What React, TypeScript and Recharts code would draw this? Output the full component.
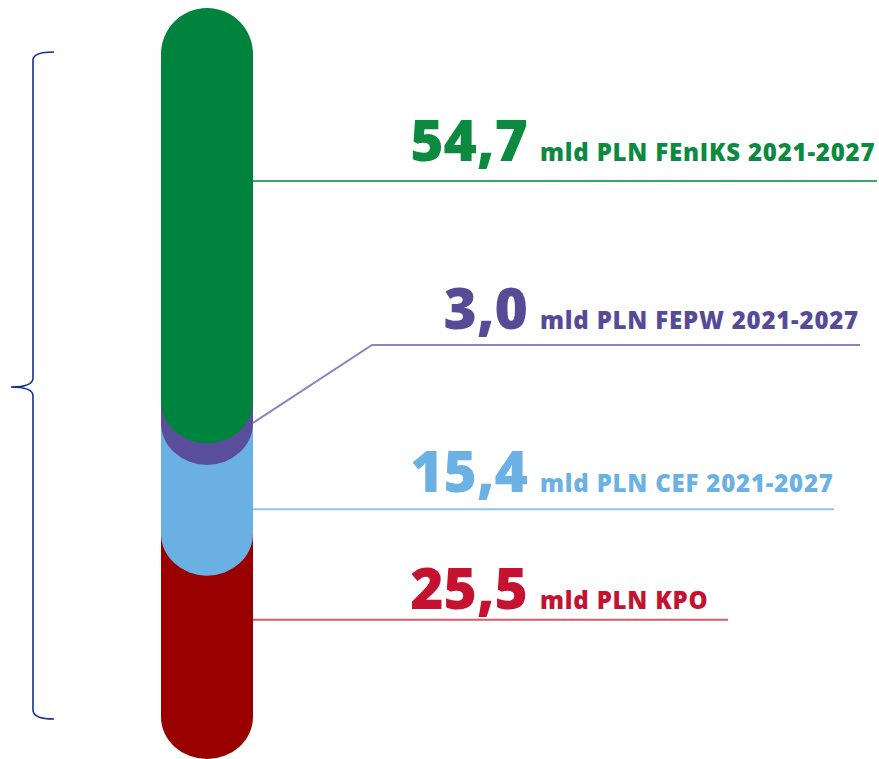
import { BarChart, Bar, XAxis, YAxis, LabelList } from "recharts";

// funding sources, bottom to top of the pill
const seriesKeys = ["kpo", "cef", "fepw", "feniks"];
const seriesValues = [25.5, 15.4, 3.0, 54.7];
const seriesNames = [
  "mld PLN KPO",
  "mld PLN CEF 2021-2027",
  "mld PLN FEPW 2021-2027",
  "mld PLN FEnIKS 2021-2027",
];

const barColors = ["#990000", "#6AB0E2", "#5A4E9C", "#00843D"];
const textColors = ["#C41230", "#6CB1E4", "#574B98", "#0B8A40"];
const lineColors = ["#DA5A67", "#8DC5EE", "#8B84C4", "#3AA965"];

// label placement relative to each segment (style only)
const labelStyle = [
  { at: 0.47, lineEnd: 728, gap: 11, rise: 0, run: 0 },
  { at: 0.78, lineEnd: 834, gap: 17, rise: 0, run: 0 },
  { at: 1.0, lineEnd: 860, gap: 16, rise: 78, run: 119 },
  { at: 0.44, lineEnd: 877, gap: 20, rise: 0, run: 0 },
];

const total = seriesValues.reduce((a, b) => a + b, 0);
const row: Record<string, number | string> = { name: "razem" };
seriesKeys.forEach((k, i) => (row[k] = seriesValues[i]));
const chartData = [row];

const FONT = "'Open Sans', 'DejaVu Sans', sans-serif";
const BOTTOM_RY = 42;

function formatValue(v: number) {
  return v.toFixed(1).replace(".", ",");
}

function makeShape(isTop: boolean) {
  return (props: any) => {
    const { x, y, width, height, fill } = props;
    const rx = width / 2;
    const top = isTop
      ? `M${x},${y + rx} A${rx},${rx} 0 0 1 ${x + width},${y + rx}`
      : `M${x},${y} L${x + width},${y}`;
    const d = `${top} L${x + width},${y + height} A${rx},${BOTTOM_RY} 0 0 1 ${x},${y + height} Z`;
    return <path d={d} fill={fill} />;
  };
}

function makeLabel(i: number) {
  return (props: any) => {
    const vb = props.viewBox || {};
    const x = props.x ?? vb.x;
    const y = props.y ?? vb.y;
    const width = props.width ?? vb.width;
    const height = props.height ?? vb.height;
    const s = labelStyle[i];
    const startX = x + width;
    const startY = y + height * s.at;
    const lineY = startY - s.rise;
    const elbowX = startX + s.run;
    const pts =
      s.run > 0
        ? `${startX},${startY} ${elbowX},${lineY} ${s.lineEnd},${lineY}`
        : `${startX},${lineY} ${s.lineEnd},${lineY}`;
    const baseY = lineY - s.gap;
    return (
      <g>
        <polyline points={pts} fill="none" stroke={lineColors[i]} strokeWidth={2} />
        <text
          x={528}
          y={baseY}
          textAnchor="end"
          fontFamily={FONT}
          fontWeight={800}
          fontSize={57}
          fill={textColors[i]}
        >
          {formatValue(seriesValues[i])}
        </text>
        <text
          x={540}
          y={baseY}
          fontFamily={FONT}
          fontWeight={800}
          fontSize={24}
          letterSpacing={0.8}
          fill={textColors[i]}
        >
          {seriesNames[i]}
        </text>
      </g>
    );
  };
}

export default function App() {
  return (
    <div style={{ position: "absolute", left: 0, top: 0, width: 879, height: 759, background: "#fff" }}>
      <svg
        width={879}
        height={759}
        style={{ position: "absolute", left: 0, top: 0, pointerEvents: "none" }}
      >
        <path
          d="M54,52 Q33,52 33,60 L33,378 Q33,387 11,387 Q33,387 33,396 L33,710 Q33,719 54,719"
          fill="none"
          stroke="#14308F"
          strokeWidth={1.6}
        />
      </svg>
      <div style={{ position: "absolute", left: 0, top: 0 }}>
        <BarChart
          width={879}
          height={759}
          data={chartData}
          margin={{ top: 8, right: 465, bottom: BOTTOM_RY, left: 0 }}
          barSize={92}
        >
          <XAxis dataKey="name" hide />
          <YAxis type="number" domain={[0, total]} hide />
          {seriesKeys.map((k, i) => (
            <Bar
              key={k}
              dataKey={k}
              stackId="a"
              fill={barColors[i]}
              shape={makeShape(i === seriesKeys.length - 1)}
              isAnimationActive={false}
            >
              <LabelList dataKey={k} content={makeLabel(i)} />
            </Bar>
          ))}
        </BarChart>
      </div>
    </div>
  );
}
